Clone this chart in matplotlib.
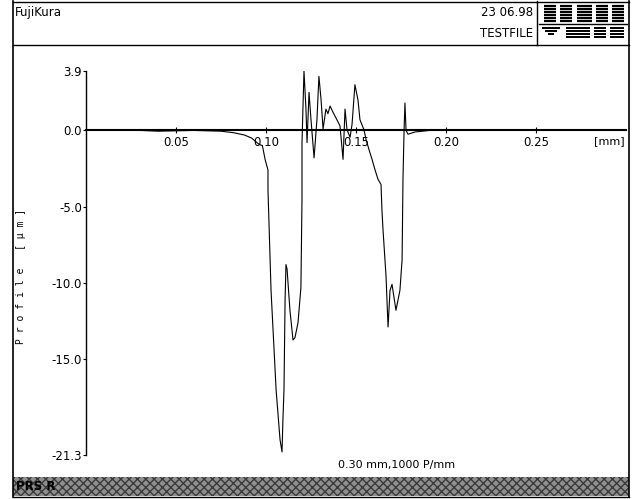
import matplotlib
matplotlib.use("Agg")
import matplotlib.pyplot as plt
from matplotlib.patches import Rectangle

# profile trace: position [mm], height [um]
pos_mm = [0.000, 0.020, 0.040, 0.060, 0.075, 0.082, 0.088, 0.092, 0.096, 0.098,
          0.0995, 0.1011, 0.1011, 0.1028, 0.1056, 0.1078, 0.1089, 0.1094, 0.1100,
          0.1106, 0.1111, 0.1117, 0.1133, 0.1150, 0.1161, 0.1178, 0.1194, 0.1200,
          0.1200, 0.1211, 0.1222, 0.1228, 0.1239, 0.1250, 0.1267, 0.1283, 0.1294,
          0.1306, 0.1317, 0.1333, 0.1344, 0.1356, 0.1372, 0.1394, 0.1411, 0.1428,
          0.1439, 0.1450, 0.1467, 0.1478, 0.1494, 0.1511, 0.1522, 0.1544, 0.1556,
          0.1572, 0.1589, 0.1606, 0.1622, 0.1639, 0.1644, 0.1650, 0.1667, 0.1678,
          0.1689, 0.1700, 0.1722, 0.1744, 0.1756, 0.1761, 0.1767, 0.1772, 0.1778,
          0.1789, 0.1828, 0.1910, 0.3000]
height_um = [0.0, 0.05, -0.05, 0.0, -0.05, -0.15, -0.3, -0.5, -0.9, -1.0,
             -1.9, -2.6, -3.9, -10.5, -17.0, -20.3, -21.1, -19.0, -17.0,
             -11.1, -8.8, -9.1, -11.8, -13.75, -13.6, -12.6, -10.3, -4.5,
             -0.8, 3.9, 1.4, -0.8, 2.5, 0.7, -1.8, 0.7, 3.55,
             2.0, 0.1, 1.4, 1.1, 1.6, 1.2, 0.7, 0.3, -1.9,
             1.4, 0.05, -0.45, 0.4, 3.0, 2.0, 0.7, 0.05, -0.6,
             -1.25, -1.9, -2.6, -3.2, -3.55, -5.2, -6.5, -9.6, -12.9,
             -10.5, -10.1, -11.8, -10.5, -8.5, -3.2, 0.0, 1.8, 0.0,
             -0.25, -0.1, 0.0, 0.0]

x_ticks = [0.05, 0.10, 0.15, 0.20, 0.25]
x_labels = ["0.05", "0.10", "0.15", "0.20", "0.25"]
y_ticks = [3.9, 0.0, -5.0, -10.0, -15.0, -21.3]
y_labels = ["3.9", "0.0", "-5.0", "-10.0", "-15.0", "-21.3"]

W, H = 637, 499
fig = plt.figure(figsize=(W / 100, H / 100), dpi=100)
plt.rcParams['font.family'] = ['DejaVu Sans']

# overlay for the printout frame, in pixel units
bg = fig.add_axes([0, 0, 1, 1])
bg.set_xlim(0, W)
bg.set_ylim(H, 0)
bg.axis('off')

# plot area in pixels
px_l, px_r, px_t, px_b = 86, 626, 71, 455
ax = fig.add_axes([px_l / W, 1 - px_b / H, (px_r - px_l) / W, (px_b - px_t) / H])
ax.set_facecolor('none')
ax.plot(pos_mm, height_um, color='black', lw=0.8)
ax.set_xlim(0, 0.30)
ax.set_ylim(-21.3, 3.9)

for s in ['top', 'right']:
    ax.spines[s].set_visible(False)
ax.spines['bottom'].set_position(('data', 0))
ax.spines['bottom'].set_linewidth(1.5)
ax.spines['left'].set_linewidth(1.0)
ax.spines['bottom'].set_bounds(0, 0.30)

ax.set_xticks(x_ticks)
ax.set_xticklabels(x_labels)
ax.set_yticks(y_ticks)
ax.set_yticklabels(y_labels)
ax.tick_params(axis='x', direction='inout', length=4, width=0.8, pad=2, labelsize=8.5)
ax.tick_params(axis='y', direction='out', length=2, width=0.8, pad=1, labelsize=8.5)
ax.text(0.2995, -0.35, "[mm]", ha='right', va='top', fontsize=8)

# outer frame
bg.plot([13, 13], [1, 497], color='black', lw=1.2)
bg.plot([629, 629], [1, 497], color='black', lw=1.2)
bg.plot([13, 629], [1.5, 1.5], color='black', lw=1.0)
bg.plot([13, 629], [45, 45], color='black', lw=1.0)
bg.plot([537, 537], [1, 45], color='black', lw=1.0)
bg.plot([13, 629], [497, 497], color='black', lw=1.0)

# header texts
bg.text(15, 12, "FujiKura", ha='left', va='center', fontsize=8.5)
bg.text(533, 12, "23 06.98", ha='right', va='center', fontsize=8.5)
bg.text(533, 33, "TESTFILE", ha='right', va='center', fontsize=8.5)

# striped logo block
bg.plot([539, 627], [24, 24], color='black', lw=1.0)
top_cols = [(544, 556), (560, 572), (577, 592), (596, 608), (612, 624)]
for y in [6, 9, 12, 15, 18, 21]:
    for x0, x1 in top_cols:
        bg.plot([x0, x1], [y, y], color='black', lw=1.6, solid_capstyle='butt')
bot_cols = [(542, 560), (566, 590), (594, 606), (610, 624)]
for y in [28, 31, 34, 37]:
    for i, (x0, x1) in enumerate(bot_cols):
        if i == 0:
            x0 += (y - 28) * 1.0
            x1 -= (y - 28) * 1.0
        bg.plot([x0, x1], [y, y], color='black', lw=1.4, solid_capstyle='butt')

# axis title and footer notes
bg.text(21, 276, "P r o f i l e   [ \u00b5 m ]", rotation=90, ha='center', va='center',
        fontsize=7, family='DejaVu Sans Mono')
bg.text(338, 465, "0.30 mm,1000 P/mm", ha='left', va='center', fontsize=8)

# dithered status bar
bg.add_patch(Rectangle((13, 477), 616, 19, facecolor='#8f8f8f', edgecolor='#3a3a3a',
                       hatch='xxxx', lw=0))
bg.text(16, 486, "PRS R", ha='left', va='center', fontsize=8.5, fontweight='bold')

fig.savefig("out.png", dpi=100)
